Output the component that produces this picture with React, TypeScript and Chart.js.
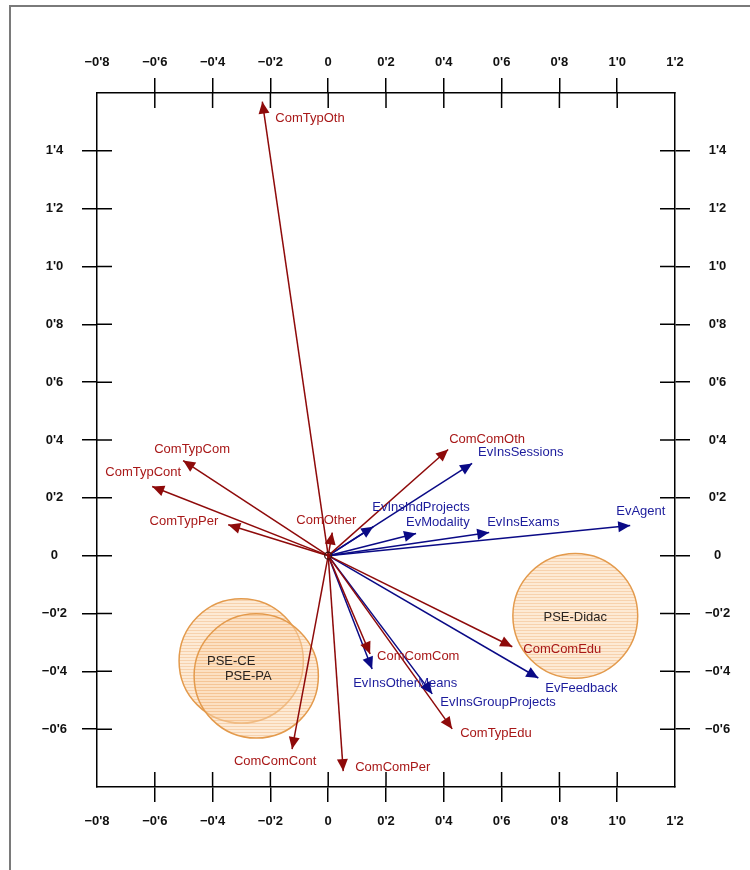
import React, { useEffect, useRef } from 'react';
import { Chart, registerables } from 'chart.js';

Chart.register(...registerables);

// ---- data ----
const X_MIN = -0.8;
const X_MAX = 1.2;
const Y_MIN = -0.8;
const Y_MAX = 1.6;
const TICK_STEP = 0.2;

const COM_NAMES = ['ComTypOth', 'ComTypCom', 'ComTypCont', 'ComTypPer', 'ComOther', 'ComComOth', 'ComComCom', 'ComTypEdu', 'ComComCont', 'ComComPer', 'ComComEdu'];
const COM_X = [-0.228, -0.502, -0.609, -0.346, 0.014, 0.415, 0.145, 0.429, -0.125, 0.052, 0.637];
const COM_Y = [1.57, 0.329, 0.239, 0.107, 0.08, 0.367, -0.34, -0.599, -0.669, -0.745, -0.315];

const EV_NAMES = ['EvInsSessions', 'EvInsIndProjects', 'EvModality', 'EvInsExams', 'EvAgent', 'EvInsOtherMeans', 'EvInsGroupProjects', 'EvFeedback'];
const EV_X = [0.498, 0.156, 0.304, 0.557, 1.045, 0.152, 0.36, 0.727];
const EV_Y = [0.319, 0.1, 0.077, 0.08, 0.104, -0.392, -0.478, -0.423];

const GROUP_NAMES = ['PSE-CE', 'PSE-PA', 'PSE-Didac'];
const GROUP_X = [-0.301, -0.249, 0.855];
const GROUP_Y = [-0.364, -0.416, -0.208];
const GROUP_R = [0.215, 0.215, 0.216];

// ---- styles ----
const COM_LINE = '#8e0a0a';
const COM_TEXT = '#a81818';
const EV_LINE = '#0a0a86';
const EV_TEXT = '#1c1c9c';
const LABEL_FONT = '13px "Liberation Sans", Arial, sans-serif';
const TICK_FONT_FAMILY = '"Liberation Sans", Arial, sans-serif';

const LABEL_POS: Record<string, [number, number, CanvasTextAlign]> = {
  ComTypOth: [13, 17, 'left'],
  ComTypCom: [9, -11, 'center'],
  ComTypCont: [-9, -14, 'center'],
  ComTypPer: [-10, -3, 'right'],
  ComOther: [-6, -12, 'center'],
  ComComOth: [1, -10, 'left'],
  ComComCom: [7, 2, 'left'],
  ComTypEdu: [8, 5, 'left'],
  ComComCont: [-17, 12, 'center'],
  ComComPer: [12, -4, 'left'],
  ComComEdu: [11, 3, 'left'],
  EvInsSessions: [6, -11, 'left'],
  EvInsIndProjects: [-1, -19, 'left'],
  EvModality: [-10, -11, 'left'],
  EvInsExams: [-2, -10, 'left'],
  EvAgent: [-14, -14, 'left'],
  EvInsOtherMeans: [-19, 14, 'left'],
  EvInsGroupProjects: [8, 9, 'left'],
  EvFeedback: [7, 10, 'left'],
};

const GROUP_LABEL_POS: Record<string, [number, number]> = {
  'PSE-CE': [-10, 0],
  'PSE-PA': [-8, 0],
  'PSE-Didac': [0, 2],
};

const near = (a: number, b: number) => Math.abs(a - b) < 1e-6;

const fmt = (v: number) => {
  if (Math.abs(v) < 1e-9) return '0';
  const s = Math.abs(v).toFixed(1).replace('.', "'");
  return v < 0 ? '\u2212' + s : s;
};

function makePattern(): CanvasPattern | string {
  const c = document.createElement('canvas');
  c.width = 4;
  c.height = 3;
  const g = c.getContext('2d');
  if (!g) return 'rgba(250,205,160,0.45)';
  g.fillStyle = 'rgba(252,216,178,0.55)';
  g.fillRect(0, 0, 4, 3);
  g.fillStyle = 'rgba(236,166,104,0.35)';
  g.fillRect(0, 0, 4, 1);
  const p = g.createPattern(c, 'repeat');
  return p || 'rgba(250,205,160,0.45)';
}

const arrowPlugin = {
  id: 'arrowPlugin',
  afterDatasetsDraw(chart: any) {
    const ctx = chart.ctx as CanvasRenderingContext2D;
    ctx.save();
    chart.data.datasets.forEach((ds: any, i: number) => {
      const meta = chart.getDatasetMeta(i);
      if (ds.kind === 'arrow') {
        const o = meta.data[0];
        const t = meta.data[1];
        const ang = Math.atan2(t.y - o.y, t.x - o.x);
        const L = 12;
        const W = 5.5;
        const bx = t.x - L * Math.cos(ang);
        const by = t.y - L * Math.sin(ang);
        ctx.beginPath();
        ctx.moveTo(t.x, t.y);
        ctx.lineTo(bx - W * Math.sin(ang), by + W * Math.cos(ang));
        ctx.lineTo(bx + W * Math.sin(ang), by - W * Math.cos(ang));
        ctx.closePath();
        ctx.fillStyle = ds.headColor;
        ctx.fill();
        const pos = LABEL_POS[ds.label] || [6, 0, 'left'];
        ctx.font = LABEL_FONT;
        ctx.fillStyle = ds.textColor;
        ctx.textAlign = pos[2];
        ctx.textBaseline = 'middle';
        ctx.fillText(ds.label, t.x + pos[0], t.y + pos[1]);
      } else if (ds.kind === 'group') {
        meta.data.forEach((pt: any, j: number) => {
          const name = ds.names[j];
          const off = GROUP_LABEL_POS[name] || [0, 0];
          ctx.font = '13px "Liberation Sans", Arial, sans-serif';
          ctx.fillStyle = '#2a2420';
          ctx.textAlign = 'center';
          ctx.textBaseline = 'middle';
          ctx.fillText(name, pt.x + off[0], pt.y + off[1]);
        });
      }
    });
    ctx.restore();
  },
};

const innerTicksPlugin = {
  id: 'innerTicks',
  afterDraw(chart: any) {
    const ctx = chart.ctx as CanvasRenderingContext2D;
    const a = chart.chartArea;
    const len = 15;
    ctx.save();
    ctx.strokeStyle = '#000';
    ctx.lineWidth = 1.5;
    ctx.beginPath();
    ['x', 'x2'].forEach((id) => {
      const s = chart.scales[id];
      s.ticks.forEach((t: any) => {
        if (near(t.value, X_MIN) || near(t.value, X_MAX)) return;
        const px = s.getPixelForValue(t.value);
        if (id === 'x') {
          ctx.moveTo(px, a.bottom);
          ctx.lineTo(px, a.bottom - len);
        } else {
          ctx.moveTo(px, a.top);
          ctx.lineTo(px, a.top + len);
        }
      });
    });
    ['y', 'y2'].forEach((id) => {
      const s = chart.scales[id];
      s.ticks.forEach((t: any) => {
        if (near(t.value, Y_MIN) || near(t.value, Y_MAX)) return;
        const py = s.getPixelForValue(t.value);
        if (id === 'y') {
          ctx.moveTo(a.left, py);
          ctx.lineTo(a.left + len, py);
        } else {
          ctx.moveTo(a.right, py);
          ctx.lineTo(a.right - len, py);
        }
      });
    });
    ctx.stroke();
    ctx.restore();
  },
};

export default function App() {
  const ref = useRef<HTMLCanvasElement | null>(null);

  useEffect(() => {
    if (!ref.current) return;
    const pattern = makePattern();

    const arrowSets: any[] = [];
    COM_NAMES.forEach((n, i) => {
      arrowSets.push({
        kind: 'arrow',
        label: n,
        headColor: COM_LINE,
        textColor: COM_TEXT,
        data: [{ x: 0, y: 0 }, { x: COM_X[i], y: COM_Y[i] }],
        showLine: true,
        borderColor: COM_LINE,
        borderWidth: 1.5,
        pointRadius: 0,
        order: 1,
      });
    });
    EV_NAMES.forEach((n, i) => {
      arrowSets.push({
        kind: 'arrow',
        label: n,
        headColor: EV_LINE,
        textColor: EV_TEXT,
        data: [{ x: 0, y: 0 }, { x: EV_X[i], y: EV_Y[i] }],
        showLine: true,
        borderColor: EV_LINE,
        borderWidth: 1.5,
        pointRadius: 0,
        order: 1,
      });
    });

    const groupSet = {
      kind: 'group',
      label: 'groups',
      names: GROUP_NAMES,
      data: GROUP_NAMES.map((_, i) => ({ x: GROUP_X[i], y: GROUP_Y[i] })),
      pointStyle: 'circle',
      pointRadius: (c: any) => {
        const s = c.chart.scales.x;
        const r = GROUP_R[c.dataIndex] ?? 0.2;
        return Math.abs(s.getPixelForValue(r) - s.getPixelForValue(0));
      },
      backgroundColor: pattern,
      borderColor: '#e39a4c',
      borderWidth: 1.5,
      showLine: false,
      order: 5,
    };

    const originSet = {
      kind: 'origin',
      label: 'origin',
      data: [{ x: 0, y: 0 }],
      pointRadius: 3.5,
      pointBorderColor: '#3a1010',
      pointBackgroundColor: 'rgba(0,0,0,0)',
      pointBorderWidth: 1.3,
      showLine: false,
      order: 0,
    };

    const tickFont = { family: TICK_FONT_FAMILY, size: 13, weight: 'bold' as const };

    const xScale = (position: 'top' | 'bottom', height: number, padding: number) => ({
      type: 'linear',
      position,
      min: X_MIN,
      max: X_MAX,
      afterFit: (s: any) => {
        s.height = height;
      },
      ticks: {
        stepSize: TICK_STEP,
        callback: (v: any) => fmt(Number(v)),
        color: '#111',
        font: tickFont,
        padding,
        maxRotation: 0,
        autoSkip: false,
      },
      grid: {
        drawOnChartArea: false,
        drawTicks: true,
        tickLength: 15,
        lineWidth: 1.5,
        color: (c: any) => (c.tick && (near(c.tick.value, X_MIN) || near(c.tick.value, X_MAX)) ? 'rgba(0,0,0,0)' : '#000'),
      },
      border: { display: true, color: '#000', width: 1.5 },
    });

    const yScale = (position: 'left' | 'right', width: number, padding: number) => ({
      type: 'linear',
      position,
      min: Y_MIN,
      max: Y_MAX,
      afterFit: (s: any) => {
        s.width = width;
      },
      ticks: {
        stepSize: TICK_STEP,
        callback: (v: any) => {
          const n = Number(v);
          if (near(n, Y_MIN) || near(n, Y_MAX)) return null;
          return fmt(n);
        },
        color: '#111',
        font: tickFont,
        padding,
        crossAlign: 'center',
        autoSkip: false,
      },
      grid: {
        drawOnChartArea: false,
        drawTicks: true,
        tickLength: 15,
        lineWidth: 1.5,
        color: '#000',
      },
      border: { display: true, color: '#000', width: 1.5 },
    });

    const chart = new Chart(ref.current, {
      type: 'scatter',
      data: { datasets: [originSet, ...arrowSets, groupSet] as any },
      options: {
        animation: false,
        responsive: false,
        devicePixelRatio: 1,
        layout: { padding: 0 },
        plugins: { legend: { display: false }, tooltip: { enabled: false } },
        events: [],
        scales: {
          x: xScale('bottom', 83, 12),
          x2: xScale('top', 93, 8),
          y: yScale('left', 97, 15),
          y2: yScale('right', 75, 15),
        } as any,
      },
      plugins: [arrowPlugin, innerTicksPlugin],
    });
    return () => chart.destroy();
  }, []);

  return (
    <div style={{ position: 'fixed', left: 0, top: 0, width: 750, height: 870, overflow: 'hidden', background: '#fff' }}>
      <div
        style={{
          position: 'absolute',
          left: 9,
          top: 5,
          width: 800,
          height: 900,
          borderTop: '2px solid #7a7a7a',
          borderLeft: '2px solid #7a7a7a',
        }}
      />
      <canvas ref={ref} width={750} height={870} style={{ position: 'absolute', left: 0, top: 0 }} />
    </div>
  );
}
